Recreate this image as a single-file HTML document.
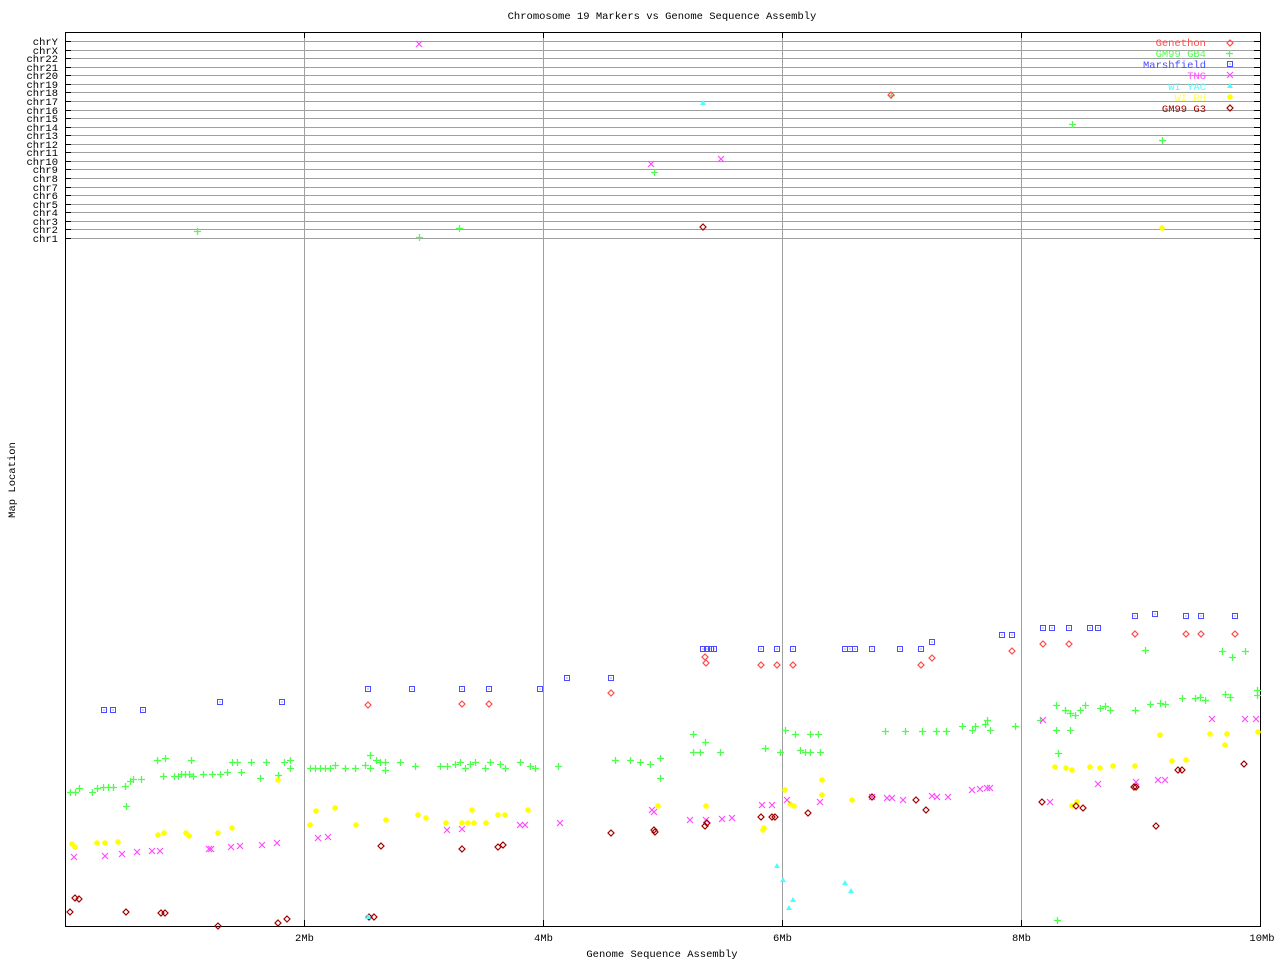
<!DOCTYPE html>
<html><head><meta charset="utf-8"><style>
html,body{margin:0;padding:0;background:#fff;}
svg{display:block;font-family:"Liberation Mono","DejaVu Sans Mono",monospace;}
</style></head><body>
<svg id="s" width="1280" height="960" xmlns="http://www.w3.org/2000/svg">
<rect width="1280" height="960" fill="#fff"/>
<text x="662" y="19" font-size="10.5" text-anchor="middle" fill="#000">Chromosome 19 Markers vs Genome Sequence Assembly</text>
<text x="662" y="957" font-size="10.5" text-anchor="middle" fill="#000">Genome Sequence Assembly</text>
<text transform="translate(15,480) rotate(-90)" font-size="10.5" text-anchor="middle" fill="#000">Map Location</text>
<g id="grid"></g>
<rect x="65.5" y="32.5" width="1195" height="894" fill="none" stroke="#000" stroke-width="1"/>
<g id="pts"></g>
<g font-size="10.5" text-anchor="end">
<text x="1206" y="46" fill="#ff4b4b">Genethon</text>
<text x="1206" y="57" fill="#4bff4b">GM99 GB4</text>
<text x="1206" y="68" fill="#4b4bff">Marshfield</text>
<text x="1206" y="79" fill="#ff4bff">TNG</text>
<text x="1206" y="90" fill="#4bffff">WI YAC</text>
<text x="1206" y="101" fill="#ffff4b">WI RH</text>
<text x="1206" y="112" fill="#a00000">GM99 G3</text>
</g>
</svg>
<script>
var NS="http://www.w3.org/2000/svg";
var g=document.getElementById('grid'),p=document.getElementById('pts');
function el(par,t,a,txt){var e=document.createElementNS(NS,t);for(var k in a)e.setAttribute(k,a[k]);if(txt)e.textContent=txt;par.appendChild(e);return e;}
var chr=["chrY","chrX","chr22","chr21","chr20","chr19","chr18","chr17","chr16","chr15","chr14","chr13","chr12","chr11","chr10","chr9","chr8","chr7","chr6","chr5","chr4","chr3","chr2","chr1"];
for(var i=0;i<24;i++){var y=Math.round(41+i*(197/23))+0.5;
 el(g,'line',{x1:65,x2:1260,y1:y,y2:y,stroke:'#a0a0a0'});
 el(g,'line',{x1:65,x2:71,y1:y,y2:y,stroke:'#000'});
 el(g,'line',{x1:1254,x2:1260,y1:y,y2:y,stroke:'#000'});
 el(g,'text',{x:58,y:y+3.5,'font-size':10.5,'text-anchor':'end',fill:'#000'},chr[i]);}
var xs=[304,543,782,1021],lab=["2Mb","4Mb","6Mb","8Mb"];
for(var i=0;i<4;i++){var x=xs[i]+0.5;el(g,'line',{x1:x,x2:x,y1:32,y2:926,stroke:'#a0a0a0'});
 el(g,'line',{x1:x,x2:x,y1:32,y2:38,stroke:'#000'});el(g,'line',{x1:x,x2:x,y1:920,y2:926,stroke:'#000'});
 el(g,'text',{x:x,y:941,'font-size':10.5,'text-anchor':'middle',fill:'#000'},lab[i]);}
el(g,'text',{x:1262,y:941,'font-size':10.5,'text-anchor':'middle',fill:'#000'},"10Mb");
function plus(x,y,c){el(p,'path',{d:'M'+(x-3)+' '+(y+.5)+'h7M'+(x+.5)+' '+(y-3)+'v7',stroke:c,'stroke-width':1.3,fill:'none'});}
function sq(x,y,c){el(p,'rect',{x:x-2.5,y:y-2.5,width:5,height:5,stroke:c,fill:'none','stroke-width':1});el(p,'rect',{x:x-.5,y:y-.5,width:1,height:1,fill:c});}
function cross(x,y,c){el(p,'path',{d:'M'+(x-3)+' '+(y-3)+'l6 6M'+(x+3)+' '+(y-3)+'l-6 6',stroke:c,'stroke-width':1.2,fill:'none'});}
function star(x,y,c){el(p,'path',{d:'M'+(x-3)+' '+y+'h6M'+x+' '+(y-3)+'v6M'+(x-2)+' '+(y-2)+'l4 4M'+(x+2)+' '+(y-2)+'l-4 4',stroke:c,'stroke-width':1.4,fill:'none'});}
function dia(x,y,c){el(p,'path',{d:'M'+x+' '+(y-3)+'l3 3l-3 3l-3 -3z',stroke:c,fill:'none','stroke-width':1.2});}
function tri(x,y,c){el(p,'path',{d:'M'+x+' '+(y-3)+'l3 5h-6z',fill:c});}
function put(f,c,a){for(var i=0;i<a.length;i+=2)f(a[i],a[i+1],c);}
put(sq,'#4b4bff',[104,710,113,710,143,710,220,702,282,702,368,689,412,689,462,689,489,689,540,689,567,678,611,678,703,649,707,649,711,649,714,649,761,649,777,649,793,649,845,649,850,649,855,649,872,649,900,649,921,649,932,642,1002,635,1012,635,1043,628,1052,628,1069,628,1090,628,1098,628,1135,616,1155,614,1186,616,1201,616,1235,616]);
put(plus,'#4bff4b',[70,792,75,792,79,788,92,792,97,788,103,787,108,787,113,787,125,786,130,781,133,779,141,779,157,760,163,776,165,758,174,776,178,776,181,774,185,774,189,774,191,760,193,776,203,774,212,774,220,774,227,772,232,762,237,762,241,772,251,762,260,778,266,762,278,775,284,762,290,768,290,760,126,806,310,768,315,768,320,768,325,768,330,768,335,765,345,768,355,768,365,765,370,768,376,760,380,762,385,762,400,762,415,766,440,766,447,766,455,764,465,768,470,764,475,762,485,768,490,762,500,764,505,768,520,762,530,766,535,768,558,766,615,760,630,760,640,762,650,764,660,758,660,778,693,734,693,752,705,742,700,752,720,752,765,748,780,752,785,730,795,734,800,750,805,752,810,752,820,752,810,734,818,734,885,731,905,731,922,731,936,731,946,731,962,726,972,730,975,726,985,724,987,720,990,730,1015,726,1056,705,1056,730,1065,710,1070,713,1075,715,1080,710,1085,705,1100,708,1105,706,1110,710,1135,710,1150,704,1160,703,1165,704,1182,698,1195,698,1200,697,1205,700,1225,694,1230,697,1257,690,1257,695,1145,650,1222,651,1232,657,1245,651,1058,753,1070,730,1040,720,370,755,385,770,460,762,1057,920,197,231,459,228,654,172,1072,124,1162,140,891,95,419,237]);
put(star,'#ffff00',[72,844,75,847,97,843,105,843,118,842,158,835,164,833,186,833,189,836,218,833,232,828,278,780,310,825,316,811,335,808,356,825,386,820,418,815,426,818,446,823,462,823,468,823,474,823,472,810,486,823,498,815,505,815,528,810,658,806,706,806,785,790,790,804,794,806,822,780,822,795,852,800,1066,768,1072,770,1055,767,1090,767,1100,768,1113,766,1135,766,1172,761,1186,760,1210,734,1227,734,1225,745,1258,732,1072,806,1077,802,1160,735,1162,228,763,830,764,828]);
put(cross,'#ff4bff',[74,857,105,856,122,854,160,851,231,847,240,846,262,845,277,843,447,830,462,829,560,823,651,164,721,159,652,810,690,820,706,820,722,819,732,818,762,805,772,805,787,800,820,802,887,798,892,798,932,796,972,790,980,789,987,788,990,788,1098,784,1158,780,1212,719,1245,719,1256,719,1043,720,137,852,152,851,209,849,211,849,318,838,328,837,520,825,525,825,654,812,872,797,903,800,937,797,948,797,1136,782,1165,780,419,44,1050,802]);
put(dia,'#ff4b4b',[462,704,611,693,705,657,761,665,777,665,793,665,921,665,932,658,1069,644,1186,634,368,705,489,704,706,663,1012,651,1043,644,1135,634,1201,634,1235,634,891,95]);
put(dia,'#a00000',[70,912,75,898,79,899,126,912,161,913,165,913,218,926,381,846,462,849,611,833,705,826,707,823,761,817,775,817,808,813,926,810,1156,826,1244,764,1182,770,1076,806,1083,808,1134,787,369,917,374,917,654,830,655,832,498,847,503,845,278,923,287,919,772,817,872,797,916,800,1042,802,1136,787,1178,770,703,227]);
put(tri,'#4bffff',[777,866,783,880,789,908,793,900,845,883,851,891,368,917,703,103]);
/* legend markers */
dia(1230,43,'#ff4b4b');plus(1229,53,'#4bff4b');sq(1230,64,'#4b4bff');cross(1230,75,'#ff4bff');tri(1230,86,'#4bffff');star(1230,97,'#ffff00');dia(1230,108,'#a00000');
</script>
</body></html>
